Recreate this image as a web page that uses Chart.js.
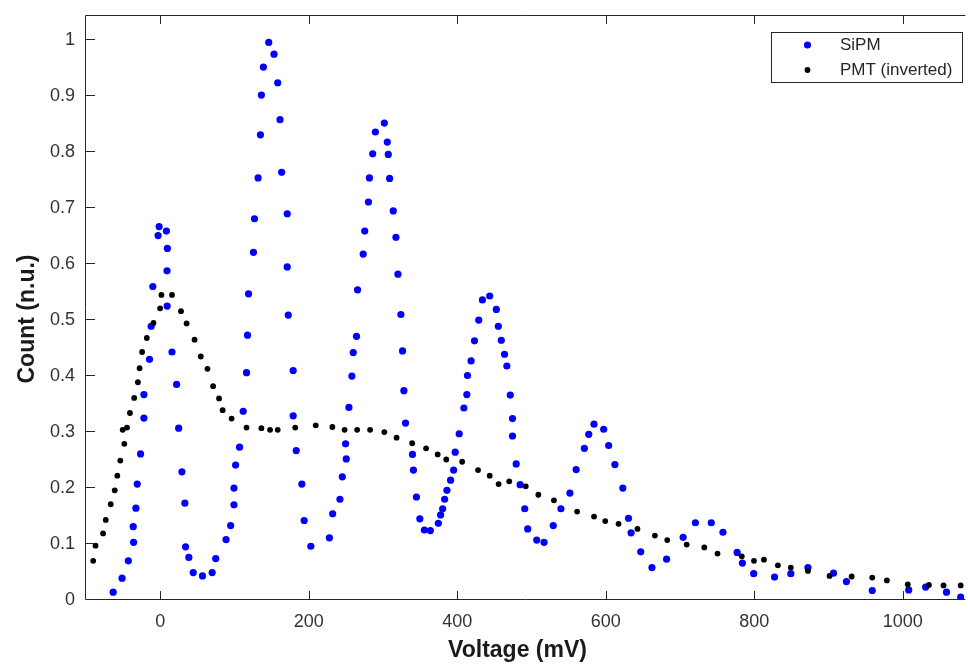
<!DOCTYPE html>
<html>
<head>
<meta charset="utf-8">
<script src="https://cdn.jsdelivr.net/npm/chart.js@4.4.1/dist/chart.umd.min.js"></script>
<style>
  html, body { margin: 0; padding: 0; background: #fff; }
  #wrap { width: 968px; height: 668px; }
</style>
</head>
<body>
<div id="wrap"><canvas id="c" width="968" height="668"></canvas></div>
<script>
// ---- data ----
const seriesNames = ['SiPM', 'PMT (inverted)'];
const xTitle = 'Voltage (mV)';
const yTitle = 'Count (n.u.)';

const sipmX = [-63.4, -51.4, -43.0, -35.9, -36.4, -32.8, -31.0, -26.5, -22.0, -22.0, -14.5, -12.3, -10.0,
  -2.9, -1.5, 8.3, 9.6, 9.1, 9.3, 15.8, 22.0, 24.8, 29.2, 33.2, 34.1, 38.5, 44.4, 56.9, 69.9, 74.7,
  88.6, 94.8, 99.3, 99.3, 101.5, 106.8, 111.7, 116.2, 117.5, 118.9, 125.5, 126.9, 131.8, 134.9, 136.2,
  138.9, 146.1, 153.2, 158.2, 161.3, 163.5, 171.0, 171.0, 172.4, 179.0, 179.0, 183.1, 190.7, 193.8,
  202.8, 227.8, 232.2, 242.0, 245.2, 250.5, 249.6, 254.1, 258.1, 259.9, 264.3, 265.7, 273.3, 275.4,
  280.4, 281.7, 286.1, 289.7, 301.8, 305.8, 307.1, 308.9, 313.8, 317.4, 320.1, 324.1, 326.3, 328.1,
  330.3, 339.7, 341.0, 345.0, 349.6, 355.7, 363.8, 374.5, 377.6, 380.3, 383.0, 386.1, 391.0, 395.1,
  397.2, 402.6, 408.9, 412.9, 413.8, 418.6, 423.2, 428.9, 433.9, 443.7, 452.6, 455.3, 459.3, 463.7,
  466.8, 471.4, 474.4, 474.4, 479.4, 484.7, 490.9, 494.9, 507.0, 516.9, 529.3, 539.6, 551.7, 560.1,
  571.2, 577.1, 584.2, 597.2, 603.9, 612.3, 623.0, 630.6, 634.1, 647.1, 662.2, 681.9, 704.2, 720.7,
  742.1, 757.8, 776.9, 784.0, 799.2, 827.3, 849.2, 872.3, 906.7, 924.1, 958.9, 1008.0, 1030.8, 1058.9, 1078.0];
const sipmY = [0.014, 0.039, 0.070, 0.103, 0.131, 0.164, 0.207, 0.261, 0.325, 0.367, 0.430, 0.489, 0.560,
  0.651, 0.667, 0.659, 0.628, 0.588, 0.525, 0.443, 0.385, 0.307, 0.229, 0.173, 0.095, 0.076, 0.049, 0.043, 0.049, 0.074,
  0.108, 0.133, 0.170, 0.200, 0.241, 0.273, 0.337, 0.406, 0.473, 0.547, 0.621, 0.681, 0.754, 0.831, 0.902,
  0.952, 0.996, 0.975, 0.924, 0.858, 0.764, 0.690, 0.595, 0.509, 0.410, 0.329, 0.267, 0.207, 0.142,
  0.096, 0.111, 0.154, 0.180, 0.220, 0.252, 0.279, 0.344, 0.400, 0.442, 0.471, 0.554, 0.618, 0.659,
  0.711, 0.754, 0.797, 0.836, 0.852, 0.818, 0.796, 0.753, 0.695, 0.648, 0.582, 0.510, 0.445, 0.374,
  0.316, 0.260, 0.232, 0.184, 0.145, 0.125, 0.124, 0.137, 0.152, 0.163, 0.180, 0.196, 0.214, 0.232,
  0.264, 0.297, 0.343, 0.367, 0.401, 0.427, 0.463, 0.500, 0.536, 0.543, 0.519, 0.489, 0.464, 0.439,
  0.418, 0.366, 0.324, 0.293, 0.243, 0.206, 0.163, 0.127, 0.107, 0.103, 0.133, 0.163, 0.191, 0.233,
  0.271, 0.296, 0.314, 0.305, 0.276, 0.242, 0.200, 0.146, 0.120, 0.086, 0.058, 0.073, 0.112, 0.138,
  0.138, 0.121, 0.085, 0.066, 0.047, 0.041, 0.047, 0.058, 0.048, 0.033, 0.017, 0.018, 0.023, 0.014, 0.005];

const pmtX = [-90.3, -87.2, -77.0, -73.4, -66.7, -61.3, -57.8, -53.8, -48.4, -50.6, -44.8, -40.8, -35.1,
  -30.1, -27.8, -24.4, -18.1, -9.1, -0.2, 1.6, 15.8, 27.9, 35.5, 46.2, 54.6, 63.6, 71.2, 79.2, 84.0,
  96.1, 116.2, 136.2, 147.9, 158.2, 181.8, 209.4, 231.8, 248.3, 265.2, 282.6, 301.8, 318.3, 339.3,
  358.0, 373.6, 385.2, 406.6, 428.0, 443.7, 455.7, 470.0, 492.2, 509.2, 530.2, 561.4, 584.2, 599.3,
  617.2, 642.7, 666.2, 682.8, 709.0, 732.7, 750.5, 783.2, 799.6, 813.0, 831.8, 849.2, 872.3, 901.4,
  931.2, 958.9, 978.6, 1006.7, 1035.2, 1054.9, 1078.0];
const pmtY = [0.070, 0.097, 0.119, 0.143, 0.171, 0.196, 0.222, 0.249, 0.279, 0.304, 0.308, 0.334, 0.361,
  0.389, 0.414, 0.443, 0.468, 0.495, 0.521, 0.545, 0.545, 0.516, 0.494, 0.465, 0.435, 0.413, 0.382, 0.360, 0.339,
  0.324, 0.308, 0.307, 0.304, 0.304, 0.308, 0.312, 0.309, 0.304, 0.304, 0.304, 0.300, 0.290, 0.280,
  0.271, 0.260, 0.251, 0.247, 0.232, 0.222, 0.207, 0.212, 0.203, 0.188, 0.178, 0.158, 0.149, 0.141,
  0.136, 0.127, 0.115, 0.107, 0.099, 0.094, 0.083, 0.078, 0.070, 0.072, 0.062, 0.058, 0.052, 0.043,
  0.042, 0.040, 0.035, 0.028, 0.027, 0.026, 0.026];

const xTicks = [0, 200, 400, 600, 800, 1000];
const yTicks = [0, 0.1, 0.2, 0.3, 0.4, 0.5, 0.6, 0.7, 0.8, 0.9, 1];
const xTickLabels = ['0', '200', '400', '600', '800', '1000'];
const yTickLabels = ['0', '0.1', '0.2', '0.3', '0.4', '0.5', '0.6', '0.7', '0.8', '0.9', '1'];
const xRange = [-100, 1083];
const yRange = [0, 1.045];

// ---- styles ----
const FONT = "'Liberation Sans', Arial, Helvetica, sans-serif";
const AXIS_COLOR = '#262626';

const pts = (xs, ys) => xs.map((x, i) => ({ x: x, y: ys[i] }));

// inward ticks + axes frame (left, bottom, top; right side is cropped in the original)
const boxTicks = {
  id: 'boxTicks',
  afterDatasetsDraw(chart) {
    const { ctx, chartArea: a, scales } = chart;
    ctx.save();
    ctx.strokeStyle = AXIS_COLOR;
    ctx.lineWidth = 1;
    const L = 9;
    ctx.beginPath();
    scales.x.ticks.forEach(t => {
      const px = Math.round(scales.x.getPixelForValue(t.value)) + 0.5;
      ctx.moveTo(px, a.bottom); ctx.lineTo(px, a.bottom - L);
      ctx.moveTo(px, a.top); ctx.lineTo(px, a.top + L);
    });
    scales.y.ticks.forEach(t => {
      const py = Math.round(scales.y.getPixelForValue(t.value)) - 0.5;
      ctx.moveTo(a.left, py); ctx.lineTo(a.left + L, py);
    });
    ctx.moveTo(a.right + 1, a.top + 0.5);
    ctx.lineTo(a.left - 0.5, a.top + 0.5);
    ctx.lineTo(a.left - 0.5, a.bottom - 0.5);
    ctx.lineTo(a.right + 1, a.bottom - 0.5);
    ctx.stroke();
    ctx.restore();
  }
};

// axis titles placed like the original (MATLAB) labels
const axisTitles = {
  id: 'axisTitles',
  afterDraw(chart) {
    const { ctx } = chart;
    ctx.save();
    ctx.fillStyle = '#1a1a1a';
    ctx.font = 'bold 23px ' + FONT;
    ctx.textAlign = 'center';
    ctx.textBaseline = 'alphabetic';
    ctx.fillText(xTitle, 517.5, 657);
    ctx.translate(33.5, 319);
    ctx.rotate(-Math.PI / 2);
    ctx.fillText(yTitle, 0, 0);
    ctx.restore();
  }
};

// boxed legend in top-right corner of the axes
const boxLegend = {
  id: 'boxLegend',
  afterDraw(chart) {
    const { ctx } = chart;
    const bx = 771.5, by = 32.5, bw = 191, bh = 50;
    ctx.save();
    ctx.fillStyle = '#fff';
    ctx.fillRect(bx, by, bw, bh);
    ctx.strokeStyle = AXIS_COLOR;
    ctx.lineWidth = 1;
    ctx.strokeRect(bx, by, bw, bh);
    ctx.font = '17px ' + FONT;
    ctx.textBaseline = 'middle';
    ctx.textAlign = 'left';
    chart.data.datasets.forEach((ds, i) => {
      const cy = 45 + i * 25;
      ctx.fillStyle = ds.backgroundColor;
      ctx.beginPath();
      ctx.arc(807.5, cy, ds.pointRadius, 0, Math.PI * 2);
      ctx.fill();
      ctx.fillStyle = AXIS_COLOR;
      ctx.fillText(ds.label, 840, cy + 0.5);
    });
    ctx.restore();
  }
};

new Chart(document.getElementById('c'), {
  type: 'scatter',
  data: {
    datasets: [
      { label: seriesNames[0], data: pts(sipmX, sipmY), backgroundColor: '#0000ff', borderWidth: 0,
        pointRadius: 3.6, pointHoverRadius: 3.6, order: 1 },
      { label: seriesNames[1], data: pts(pmtX, pmtY), backgroundColor: '#000000', borderWidth: 0,
        pointRadius: 2.9, pointHoverRadius: 2.9, order: 0 }
    ]
  },
  options: {
    responsive: false,
    animation: false,
    layout: { padding: { top: 15, right: 0, left: 0, bottom: 0 } },
    plugins: { legend: { display: false }, tooltip: { enabled: false } },
    scales: {
      x: {
        type: 'linear', min: xRange[0], max: xRange[1],
        grid: { display: false, drawTicks: false },
        border: { display: false },
        afterBuildTicks(s) { s.ticks = xTicks.map(v => ({ value: v })); },
        ticks: { padding: 11, color: '#333', font: { family: FONT, size: 18 },
          callback: (v, i) => xTickLabels[i] },
        title: { display: false },
        afterFit(s) { s.height = 68; s.paddingLeft = 0; s.paddingRight = 0; }
      },
      y: {
        type: 'linear', min: yRange[0], max: yRange[1],
        grid: { display: false, drawTicks: false },
        border: { display: false },
        afterBuildTicks(s) { s.ticks = yTicks.map(v => ({ value: v })); },
        ticks: { padding: 11, color: '#333', font: { family: FONT, size: 18 },
          callback: (v, i) => yTickLabels[i] },
        title: { display: false },
        afterFit(s) { s.width = 86; s.paddingTop = 0; s.paddingBottom = 0; }
      }
    }
  },
  plugins: [boxTicks, axisTitles, boxLegend]
});
</script>
</body>
</html>
